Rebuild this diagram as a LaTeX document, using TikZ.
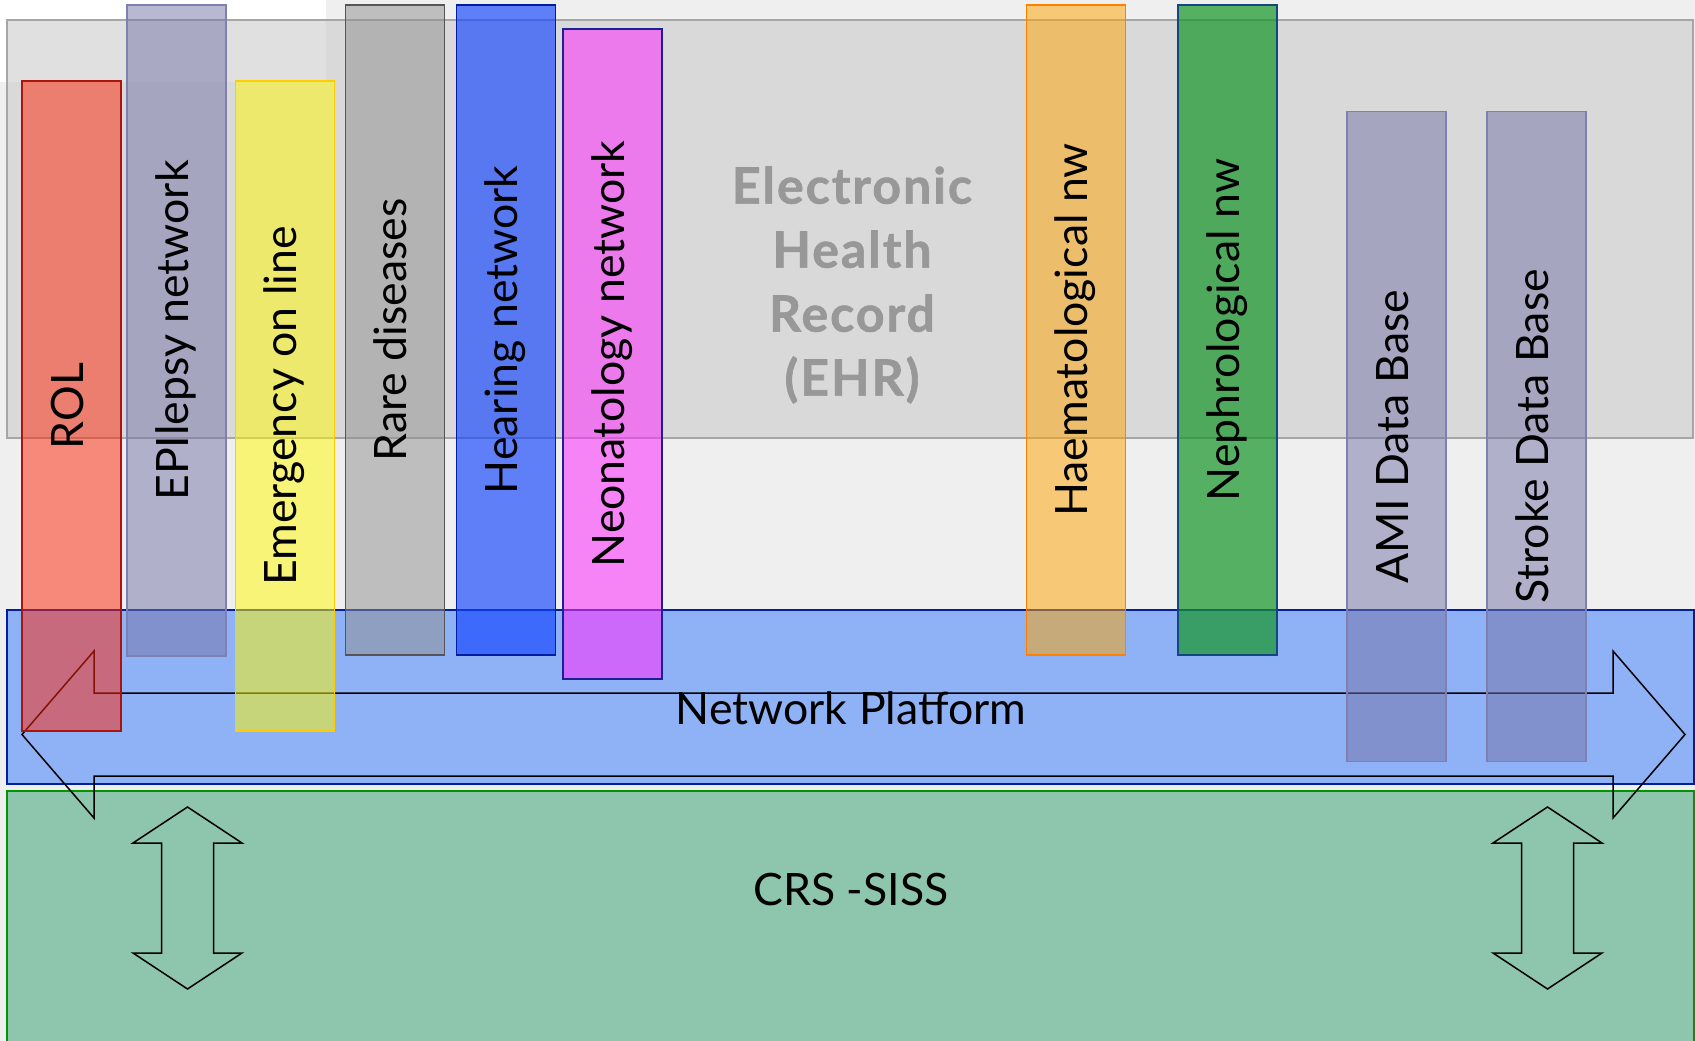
\documentclass[tikz,border=0pt]{standalone}
\usepackage{fontspec}
\setmainfont{Lato}
\usetikzlibrary{positioning}
\definecolor{bgGray}{RGB}{239,239,239}
\definecolor{ehrFill}{RGB}{200,200,200}
\definecolor{ehrLine}{RGB}{166,166,166}
\definecolor{ehrText}{RGB}{152,152,152}
\definecolor{platFill}{RGB}{143,177,245}
\definecolor{platLine}{RGB}{0,32,160}
\definecolor{crsFill}{RGB}{141,197,173}
\definecolor{crsLine}{RGB}{0,150,0}
\definecolor{rolFill}{RGB}{255,39,10}
\definecolor{rolLine}{RGB}{170,20,10}
\definecolor{epiFill}{RGB}{115,115,167}
\definecolor{epiLine}{RGB}{127,127,176}
\definecolor{emerFill}{RGB}{255,250,0}
\definecolor{emerLine}{RGB}{255,204,0}
\definecolor{rareFill}{RGB}{142,142,142}
\definecolor{rareLine}{RGB}{85,85,85}
\definecolor{hearFill}{RGB}{18,68,255}
\definecolor{hearLine}{RGB}{0,30,160}
\definecolor{neoFill}{RGB}{255,45,255}
\definecolor{neoLine}{RGB}{30,30,150}
\definecolor{haemFill}{RGB}{255,165,0}
\definecolor{haemLine}{RGB}{255,128,0}
\definecolor{nephFill}{RGB}{20,150,40}
\definecolor{nephLine}{RGB}{20,70,130}
\newcommand{\barfont}{\fontsize{44.6}{53}\selectfont}
\newfontfamily\ehrfont[FakeBold=1.2,LetterSpace=4]{Lato Bold}

\tikzset{
  netbar/.style={draw, line width=1.5pt, rotate=90, minimum width=650pt,
    minimum height=99pt, inner sep=0pt, fill opacity=0.5, text opacity=1,
    font=\barfont, text height=33pt, text depth=10pt},
  layer/.style={line width=1.5pt, inner sep=0pt, minimum width=1687pt},
  outline arrow/.style={draw=black, line width=1.5pt, line join=miter},
}

\begin{document}
\begin{tikzpicture}[x=1pt,y=-1pt]
  \useasboundingbox (0,0) rectangle (1695,1041);
  \fill[bgGray] (0,0) rectangle (1695,1041);
  \fill[white] (0,0) rectangle (326,82);

  % EHR layer
  \draw[ehrLine, line width=1.5pt, fill=ehrFill, fill opacity=0.56] (7,20) rectangle (1693,438);
  \node[text=ehrText, font=\ehrfont\fontsize{50}{64}\selectfont, align=center] (ehr) at (852,285)
    {Electronic\\Health\\Record\\(EHR)};

  % platform and CRS layers
  \node[layer, draw=platLine, fill=platFill, minimum height=174pt] (platform) at (850.5,697) {};
  \node[layer, draw=crsLine, fill=crsFill, minimum height=269pt] (crs) at (850.5,925.5) {};
  \node[font=\barfont, anchor=base] (platlabel) at (851,724) {Network Platform};
  \node[font=\barfont, anchor=base] (crslabel) at (851,905) {CRS -SISS};

  % big double arrow
  \draw[outline arrow] (22,734.5) -- (94,651) -- (94,693) -- (1613,693) -- (1613,651)
    -- (1685,734.5) -- (1613,818) -- (1613,776) -- (94,776) -- (94,818) -- cycle;

  % up/down arrows
  \foreach \cx in {187.5,1547.5}
    \draw[outline arrow] (\cx,807) -- ++(54.5,36) -- ++(-28.5,0) -- ++(0,110) -- ++(28.5,0)
      -- ++(-54.5,36) -- ++(-54.5,-36) -- ++(28.5,0) -- ++(0,-110) -- ++(-28.5,0) -- cycle;

  % networks
  \node[netbar, fill=rolFill, draw=rolLine, fill opacity=0.51] (rol) at (71.5,406) {ROL};
  \node[netbar, fill=epiFill, draw=epiLine, minimum width=651pt] (epilepsy) at (176.5,330.5) {EPIlepsy network};
  \node[netbar, fill=emerFill, draw=emerLine] (emergency) at (285,406) {Emergency on line};
  \node[netbar, fill=rareFill, draw=rareLine] (rare) at (395,330) {Rare diseases};
  \node[netbar, fill=hearFill, draw=hearLine, fill opacity=0.65] (hearing) at (506,330) {Hearing network};
  \node[netbar, fill=neoFill, draw=neoLine, fill opacity=0.55] (neonatology) at (612.5,354) {Neonatology network};
  \node[netbar, fill=haemFill, draw=haemLine] (haematological) at (1076,330) {Haematological nw};
  \node[netbar, fill=nephFill, draw=nephLine, fill opacity=0.7] (nephrological) at (1227.5,330) {Nephrological nw};
  \node[netbar, fill=epiFill, draw=epiLine] (ami) at (1396.5,436.5) {AMI Data Base};
  \node[netbar, fill=epiFill, draw=epiLine] (stroke) at (1536.5,436.5) {Stroke Data Base};
\end{tikzpicture}
\end{document}
